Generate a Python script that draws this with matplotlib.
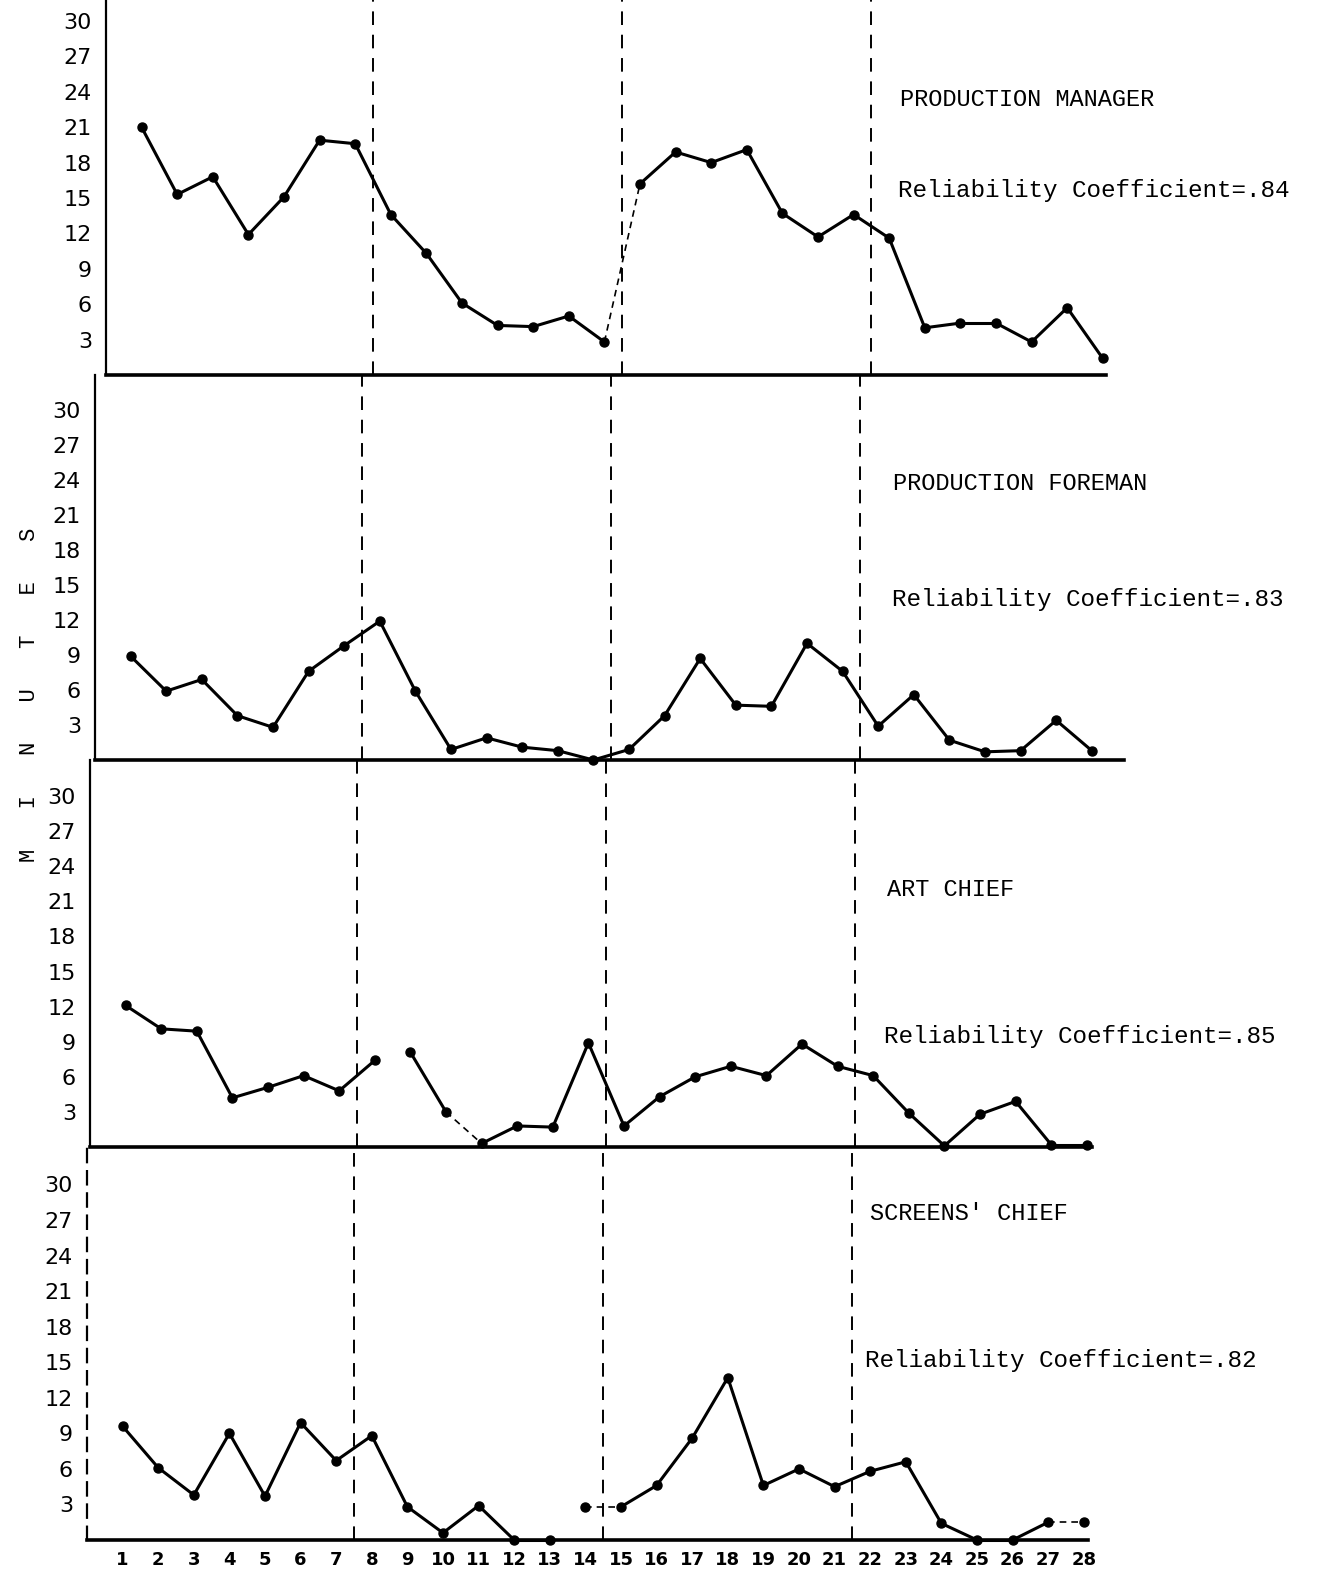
import matplotlib
matplotlib.use("Agg")
import matplotlib.pyplot as plt

days = list(range(1, 29))

manager = [21.0, 15.3, 16.8, 11.9, 15.1, 19.9, 19.6, 13.6, 10.3, 6.1, 4.2, 4.1, 5.0, 2.8,
           16.2, 18.9, 18.0, 19.1, 13.7, 11.7, 13.6, 11.6, 4.0, 4.4, 4.4, 2.8, 5.7, 1.4]
foreman = [8.9, 5.9, 6.9, 3.8, 2.8, 7.6, 9.8, 11.9, 5.9, 0.9, 1.9, 1.1, 0.8, 0.0,
           0.9, 3.8, 8.7, 4.7, 4.6, 10.0, 7.6, 2.9, 5.6, 1.7, 0.7, 0.8, 3.4, 0.8]
art = [12.1, 10.1, 9.9, 4.2, 5.1, 6.1, 4.8, 7.4, 8.1, 3.0, 0.3, 1.8, 1.7, 8.9,
       1.8, 4.3, 6.0, 6.9, 6.1, 8.8, 6.9, 6.1, 2.9, 0.1, 2.8, 3.9, 0.2, 0.2]
screens = [9.6, 6.1, 3.8, 9.0, 3.7, 9.9, 6.7, 8.8, 2.8, 0.6, 2.9, 0.0, 0.0, 2.8,
           2.8, 4.6, 8.6, 13.7, 4.6, 6.0, 4.5, 5.8, 6.6, 1.4, 0.0, 0.0, 1.5, 1.5]

titles = ["PRODUCTION MANAGER", "PRODUCTION FOREMAN", "ART CHIEF", "SCREENS' CHIEF"]
coefs = [".84", ".83", ".85", ".82"]
yticks = list(range(3, 31, 3))
phase_breaks = [7.5, 14.5, 21.5]

series = [manager, foreman, art, screens]
# segment styles: index i means segment between day i+1 and day i+2
light_segs = [{13}, set(), {9}, {13, 26}]
gap_segs = [set(), set(), {7}, {12}]

W, H = 1320, 1579
fig = plt.figure(figsize=(W / 100, H / 100), dpi=100)
fig.patch.set_facecolor("white")

# pixel geometry per panel: left, top, bottom, px per unit y, right
geo = [
    (106, 0, 375, 11.8, 1106),
    (95, 375, 760, 11.67, 1124),
    (90, 760, 1147, 11.7, 1092),
    (87, 1147, 1540, 11.85, 1088),
]
xppu = 35.6
text_pos = [((900, 100), (898, 190)), ((893, 483), (892, 599)),
            ((887, 890), (884, 1036)), ((870, 1213), (865, 1361))]

mono = "Liberation Mono"
for k, (L, T, B, yppu, R) in enumerate(geo):
    ax = fig.add_axes([L / W, 1 - B / H, (R - L) / W, (B - T) / H])
    ax.set_xlim(0, (R - L) / xppu)
    ax.set_ylim(0, (B - T) / yppu)
    ys = series[k]
    for i in range(len(days) - 1):
        if i in gap_segs[k]:
            continue
        if i in light_segs[k]:
            ax.plot(days[i:i + 2], ys[i:i + 2], color="black", lw=1.2, ls=(0, (4, 3)),
                    clip_on=False)
        else:
            ax.plot(days[i:i + 2], ys[i:i + 2], color="black", lw=2.2, clip_on=False)
    ax.plot(days, ys, ls="none", marker="o", ms=6.5, color="black", clip_on=False, zorder=5)
    for xb in phase_breaks:
        ax.axvline(xb, color="black", lw=1.4, ls=(0, (7, 5)))
    for s in ["top", "right"]:
        ax.spines[s].set_visible(False)
    ax.spines["left"].set_linewidth(1.6)
    ax.spines["bottom"].set_linewidth(2.6)
    if k == 3:
        ax.spines["left"].set_linestyle((0, (6, 4)))
    ax.set_yticks(yticks)
    ax.set_yticklabels([str(v) for v in yticks], fontsize=16)
    ax.tick_params(axis="y", length=0, pad=10)
    if k == 3:
        ax.set_xticks(days)
        ax.set_xticklabels([str(d) for d in days], fontsize=13, fontweight="bold")
        ax.tick_params(axis="x", length=0, pad=8)
    else:
        ax.set_xticks([])
    ax.patch.set_alpha(0)
    (tx, ty), (rx, ry) = text_pos[k]
    fig.text(tx / W, 1 - ty / H, titles[k], fontsize=17, family=mono, va="center", ha="left")
    fig.text(rx / W, 1 - ry / H, "Reliability Coefficient=" + coefs[k], fontsize=17.5,
             family=mono, va="center", ha="left")

fig.text(30 / W, 1 - 695 / H, "M   I   N   U   T   E   S", rotation=90, fontsize=16,
         family=mono, va="center", ha="center")

fig.savefig("out.png", dpi=100, facecolor="white")
